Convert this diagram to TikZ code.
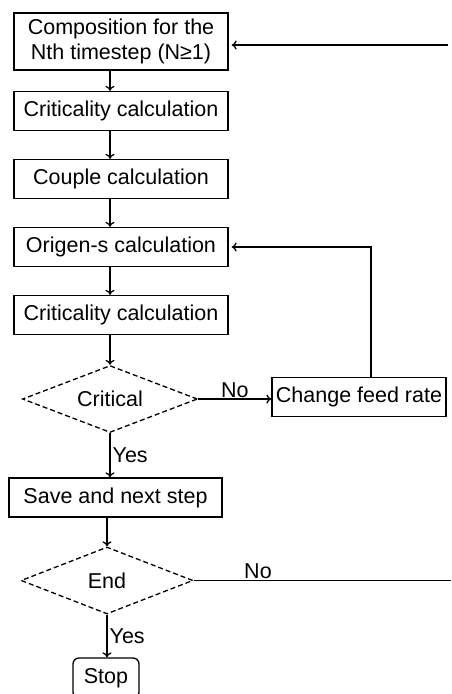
\documentclass[tikz,border=0pt]{standalone}
\usepackage{fontspec}
\setmainfont{Liberation Sans}
\usetikzlibrary{shapes.geometric, arrows.meta}
\tikzset{
  stepbox/.style={draw, rectangle, minimum width=214, minimum height=39, inner sep=0pt, align=center},
  decision/.style={draw, diamond, dash pattern=on 5pt off 3pt, minimum width=175, minimum height=67, inner sep=0pt, aspect=2.6},
  stopbox/.style={draw, rectangle, rounded corners=6pt, minimum width=66, minimum height=40, inner sep=0pt},
  flow/.style={-{To[length=5pt, width=9pt]}}
}
\begin{document}
\begin{tikzpicture}[x=1pt, y=-1pt, line width=1.3pt, font=\fontsize{21.5}{25}\selectfont]
  \useasboundingbox (0,0) rectangle (451,694);
  \node[stepbox, minimum height=57] (comp) at (121,41.5) {Composition for the\\Nth timestep (N≥1)};
  \node[stepbox] (calc1) at (121,111) {Criticality calculation};
  \node[stepbox] (couple) at (121,179) {Couple calculation};
  \node[stepbox] (origen) at (121,247) {Origen-s calculation};
  \node[stepbox] (calc2) at (121,315) {Criticality calculation};
  \node[decision, minimum width=175] (crit) at (110,399) {Critical};
  \node[stepbox, minimum width=174] (feed) at (359,397) {Change feed rate};
  \node[stepbox, minimum width=213] (save) at (115.5,497.5) {Save and next step};
  \node[decision, minimum width=172] (end) at (107,580.5) {End};
  \node[stopbox] (stop) at (106,678) {Stop};
  \coordinate (topin) at (448,45);
  \coordinate (endout) at (451,579);
  \begin{scope}[flow]
    \draw (comp.south -| crit) -- (calc1.north -| crit);
    \draw (calc1.south -| crit) -- (couple.north -| crit);
    \draw (couple.south -| crit) -- (origen.north -| crit);
    \draw (origen.south -| crit) -- (calc2.north -| crit);
    \draw (calc2.south -| crit) -- (crit.north);
    \draw (crit.east) -- node[above, inner sep=1pt] {No} (crit.east -| feed.west);
    \draw (feed.north -| 371,0) -- (371,247) -- ([xshift=3pt]origen.east);
    \draw (crit.south) -- node[right, inner sep=2pt] {Yes} (save.north -| crit);
    \draw (save.south -| end) -- (end.north);
    \draw (end.south) -- node[right, inner sep=2pt] {Yes} (stop.north -| end);
    \draw (topin) -- ([xshift=3pt]topin -| comp.east);
  \end{scope}
  \draw (end.east) -- node[above, pos=0.25, inner sep=1pt] {No} (end.east -| endout);
\end{tikzpicture}
\end{document}
